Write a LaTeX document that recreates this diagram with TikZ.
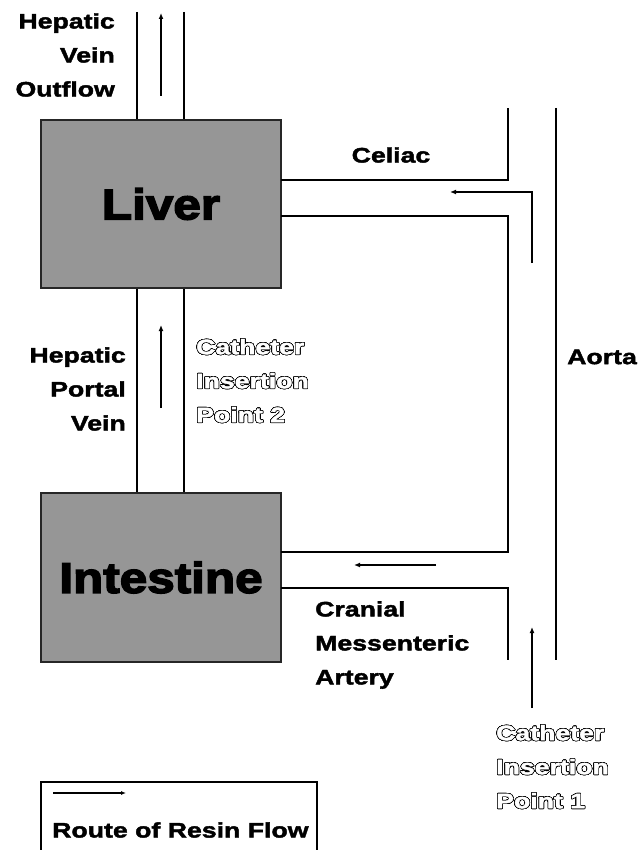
\documentclass[tikz,border=0pt]{standalone}
\usepackage{fontspec}
\setmainfont{Liberation Sans}
\newfontfamily\lab{Liberation Sans}[BoldFeatures={FakeStretch=1.27,FakeBold=2}]
\newfontfamily\orgfont{Liberation Sans}[BoldFeatures={FakeStretch=1.15,FakeBold=3.5}]
\usepackage{contour}
\contourlength{0.6pt}
\contournumber{24}
\usetikzlibrary{arrows.meta}
\newcommand{\outl}[1]{\contour{black}{\textcolor{white}{#1}}}
\begin{document}
\begin{tikzpicture}[x=1pt,y=-1pt,
  vessel/.style={line width=2pt},
  flow/.style={line width=1.8pt,-{Latex[length=6pt,width=5pt]}},
  organ/.style={draw=black!85,line width=2.5pt,fill={rgb,255:red,150;green,150;blue,150},
    minimum width=240pt,inner sep=0pt,font=\orgfont\bfseries\fontsize{43}{43}\selectfont},
  lbl/.style={font=\lab\bfseries\fontsize{21}{34}\selectfont,inner sep=0pt}]
\useasboundingbox (0,0) rectangle (638,850);

% organs
\node[organ,minimum height=168pt] (liver) at (161,204) {Liver};
\node[organ,minimum height=169pt] (int) at (161,577.5) {Intestine};

% hepatic vein / portal vein
\coordinate (hvL) at (137,12);
\coordinate (hvR) at (184,12);
\draw[vessel] (hvL) -- (hvL |- liver.north);
\draw[vessel] (hvR) -- (hvR |- liver.north);
\draw[vessel] (hvL |- liver.south) -- (hvL |- int.north);
\draw[vessel] (hvR |- liver.south) -- (hvR |- int.north);

% arteries
\coordinate (celA) at (281,180);
\coordinate (celB) at (508,180);
\coordinate (celTop) at (508,108);
\coordinate (celC) at (281,216);
\coordinate (celD) at (508,216);
\coordinate (cmaA) at (508,552);
\coordinate (cmaB) at (281,552);
\coordinate (cmaC) at (281,588);
\coordinate (cmaD) at (508,588);
\coordinate (cmaE) at (508,660);
\coordinate (aoT) at (556,108);
\coordinate (aoB) at (556,660);
\draw[vessel] (celA) -- (celB) -- (celTop);
\draw[vessel] (celC) -- (celD) -- (cmaA) -- (cmaB);
\draw[vessel] (cmaC) -- (cmaD) -- (cmaE);
\draw[vessel] (aoT) -- (aoB);

% flow arrows
\coordinate (f1a) at (161,96);   \coordinate (f1b) at (161,13);
\coordinate (f2a) at (161,408);  \coordinate (f2b) at (161,325);
\coordinate (f3a) at (532,263);  \coordinate (f3m) at (532,192); \coordinate (f3b) at (450,192);
\coordinate (f4a) at (436,565);  \coordinate (f4b) at (354,565);
\coordinate (f5a) at (532,708);  \coordinate (f5b) at (532,627);
\draw[flow] (f1a) -- (f1b);
\draw[flow] (f2a) -- (f2b);
\draw[flow] (f3a) -- (f3m) -- (f3b);
\draw[flow] (f4a) -- (f4b);
\draw[flow] (f5a) -- (f5b);

% labels
\node[lbl,align=right,anchor=east] (hvo) at (115,55) {Hepatic\\Vein\\Outflow};
\node[lbl,align=right,anchor=east] (hpv) at (126,389) {Hepatic\\Portal\\Vein};
\node[lbl] (cel) at (391,155) {Celiac};
\node[lbl,anchor=west] (ao) at (567,357) {Aorta};
\node[lbl,align=left,anchor=west] (cma) at (315,645) {Cranial\\Messenteric\\Artery};
\node[lbl,align=left,anchor=west] (cip2) at (196,381) {\outl{Catheter}\\\outl{Insertion}\\\outl{Point 2}};
\node[lbl,align=left,anchor=west] (cip1) at (496,767) {\outl{Catheter}\\\outl{Insertion}\\\outl{Point 1}};

% legend
\coordinate (lgA) at (41,850);
\coordinate (lgB) at (41,782);
\coordinate (lgC) at (317,782);
\coordinate (lgD) at (317,850);
\draw[line width=1.2pt] (lgA) -- (lgB) -- (lgC) -- (lgD);
\coordinate (la) at (53,793);
\coordinate (lb) at (126,793);
\draw[line width=1.3pt,-{Latex[length=5pt,width=4pt]}] (la) -- (lb);
\node[lbl,anchor=west] (leg) at (52,830) {Route of Resin Flow};
\end{tikzpicture}
\end{document}
